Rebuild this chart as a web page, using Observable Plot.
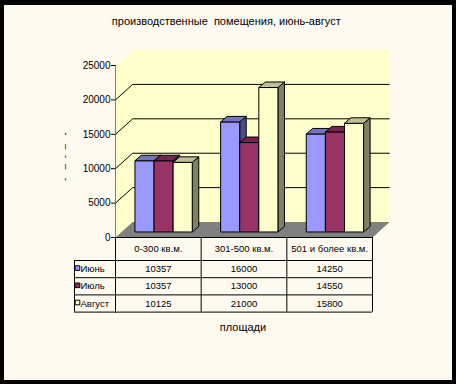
<!DOCTYPE html>
<html><head><meta charset="utf-8">
<script src="https://cdn.jsdelivr.net/npm/d3@7"></script>
<script src="https://cdn.jsdelivr.net/npm/@observablehq/plot@0.6"></script>
<style>
html,body{margin:0;padding:0;background:#FFFAF0;}
#wrap{position:relative;width:456px;height:384px;overflow:hidden;}
#frame{position:absolute;left:0;top:0;width:456px;height:384px;box-sizing:border-box;border:solid #000;border-width:5px 4px 4px 4px;pointer-events:none;}
</style></head><body><div id="wrap"><div id="frame"></div></div>
<script>
const title = "производственные  помещения, июнь-август";
const xTitle = "площади";
const yTitle = "-   –  -  –   -";
const categories = ["0-300 кв.м.", "301-500 кв.м.", "501 и более кв.м."];
const seriesNames = ["Июнь", "Июль", "Август"];
const june = [10357, 16000, 14250];
const july = [10357, 13000, 14550];
const august = [10125, 21000, 15800];
const yTicks = [0, 5000, 10000, 15000, 20000, 25000];
const gridValues = [5000, 10000, 15000, 20000];
const frontColors = ["#9999FF", "#993366", "#FFFFCC"];
const topColors = ["#7373BF", "#73264D", "#BFBF99"];
const sideColors = ["#4D4D80", "#4D1A33", "#808066"];

const series = [june, july, august];
const nCat = categories.length;
const yMax = yTicks[yTicks.length - 1];

// 3D geometry (in data units)
const WX = 0.2, WY = 2250;   // wall depth
const BX = 0.076, BY = 800;  // bar depth
const B0 = 800;              // bar base lift (mid depth)
const G0 = 0.227, BW = 0.223;

function poly(id, pts) {
  const p = pts.concat([pts[0]]);
  return p.map(([x, y]) => ({id, x, y}));
}

const wall = poly("wall", [[0, 0], [0, yMax], [WX, yMax + WY], [nCat + WX, yMax + WY], [nCat + WX, WY], [WX, WY]]);
const floor = poly("floor", [[0, 0], [nCat, 0], [nCat + WX, WY], [WX, WY]]);
const grid = gridValues.flatMap(v => [[0, v], [WX, v + WY], [nCat + WX, v + WY]].map(([x, y]) => ({id: v, x, y})));

function barFaces(j) {
  const front = [], top = [], side = [];
  series[j].forEach((v, i) => {
    const x1 = i + G0 + j * BW, x2 = x1 + BW, y0 = B0, y1 = v + B0;
    front.push(...poly(`f${i}`, [[x1, y0], [x2, y0], [x2, y1], [x1, y1]]));
    top.push(...poly(`t${i}`, [[x1, y1], [x2, y1], [x2 + BX, y1 + BY], [x1 + BX, y1 + BY]]));
    side.push(...poly(`s${i}`, [[x2, y0], [x2 + BX, y0 + BY], [x2 + BX, y1 + BY], [x2, y1]]));
  });
  return {front, top, side};
}

const lineOpts = {x: "x", y: "y", z: "id", stroke: "#000", strokeWidth: 1, strokeLinejoin: "miter", strokeLinecap: "butt", curve: "linear"};

const barMarks = [];
series.forEach((s, j) => {
  const f = barFaces(j);
  barMarks.push(
    Plot.line(f.side, {...lineOpts, fill: sideColors[j]}),
    Plot.line(f.front, {...lineOpts, fill: frontColors[j]}),
    Plot.line(f.top, {...lineOpts, fill: topColors[j]})
  );
});

const rowTop = 23, rowH = 17.2;
const tableMarks = [];
// header
tableMarks.push(Plot.text(categories, {x: (d, i) => i + 0.5, y: () => 0, text: d => d, dy: rowTop / 2, fontSize: 9.5}));
series.forEach((s, j) => {
  const dyc = rowTop + rowH * j + rowH / 2;
  tableMarks.push(
    Plot.text(s, {x: (d, i) => i + 0.5, y: () => 0, text: d => String(d), dy: dyc, fontSize: 9.5}),
    Plot.text([seriesNames[j]], {x: () => 0, y: () => 0, text: d => d, dx: -35, dy: dyc, textAnchor: "start", fontSize: 9.5}),
    Plot.dot([seriesNames[j]], {x: () => 0, y: () => 0, dx: -38, dy: dyc - 1, symbol: "square", r: 2.6, fill: frontColors[j], stroke: "#000", strokeWidth: 1})
  );
  tableMarks.push(Plot.ruleY([0], {dy: rowTop + rowH * j, insetLeft: -41, stroke: "#000"}));
});
tableMarks.push(Plot.ruleY([0], {dy: rowTop + rowH * series.length, insetLeft: -41, stroke: "#000"}));

const chart = Plot.plot({
  width: 456,
  height: 384,
  marginLeft: 115,
  marginRight: 84,
  marginTop: 65,
  marginBottom: 72.3,
  style: {fontFamily: "'Liberation Sans', Arial, sans-serif", fontSize: "10px", background: "transparent", color: "#000", overflow: "visible"},
  x: {domain: [0, nCat], axis: null},
  y: {domain: [0, yMax], range: [237, 65], ticks: yTicks, tickFormat: d => String(d), tickSize: 4, tickPadding: 1, label: null, line: true},
  marks: [
    Plot.line(wall, {x: "x", y: "y", z: "id", fill: "#FFFFCC", stroke: "none", curve: "linear"}),
    Plot.line(floor, {x: "x", y: "y", z: "id", fill: "#808080", stroke: "none", curve: "linear"}),
    Plot.line(grid, {...lineOpts}),
    ...barMarks,
    Plot.ruleY([0], {stroke: "#000"}),
    Plot.ruleX(d3.range(nCat + 1), {stroke: "#000", insetTop: 172}),
    Plot.ruleX([0], {stroke: "#000", dx: -41, insetTop: 172 + rowTop}),
    ...tableMarks,
    Plot.text([title], {frameAnchor: "top", dx: -17.7, dy: -48, fontSize: 11}),
    Plot.text([xTitle], {frameAnchor: "bottom", dx: -1, dy: 18.5, fontSize: 11}),
    Plot.text([yTitle], {x: () => 0, y: () => yMax * 0.47, dx: -51, rotate: -90, fontSize: 10, fill: "#222"})
  ]
});
document.getElementById("wrap").prepend(chart);
</script>
</body></html>
